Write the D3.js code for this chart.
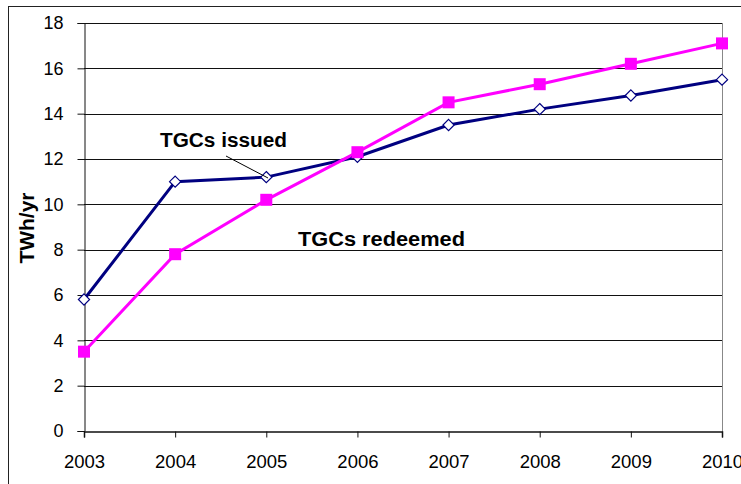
<!DOCTYPE html>
<html>
<head>
<meta charset="utf-8">
<script src="https://cdn.jsdelivr.net/npm/d3@7"></script>
<style>
  body { margin: 0; background: #fff; }
  svg { display: block; font-family: Arial, "Liberation Sans", sans-serif; }
</style>
</head>
<body>
<div id="chart"></div>
<script>
(function () {
    // data
    const years = [2003, 2004, 2005, 2006, 2007, 2008, 2009, 2010];
    const issued = [5.8, 11.0, 11.2, 12.1, 13.5, 14.2, 14.8, 15.5];
    const redeemed = [3.5, 7.8, 10.2, 12.3, 14.5, 15.3, 16.2, 17.1];
    const yTicks = [0, 2, 4, 6, 8, 10, 12, 14, 16, 18];

    const W = 741, H = 484;
    const margin = { top: 23, right: 19, bottom: 53, left: 84 };
    const width = W - margin.left - margin.right;
    const height = H - margin.top - margin.bottom;

    const svg = d3.select("#chart")
      .append("svg")
        .attr("width", W)
        .attr("height", H);

    // outer chart frame
    svg.append("rect")
      .attr("x", 8.5).attr("y", 6.5)
      .attr("width", W).attr("height", H)
      .attr("fill", "none")
      .attr("stroke", "#222")
      .attr("stroke-width", 1);

    const g = svg.append("g")
      .attr("transform", `translate(${margin.left},${margin.top})`);

    const x = d3.scalePoint()
      .domain(years)
      .range([0, width]);

    const y = d3.scaleLinear()
      .domain([0, 18])
      .range([height, 0]);

    // gridlines
    g.append("g")
      .selectAll("line")
      .data(yTicks.filter(d => d > 0))
      .enter()
      .append("line")
        .attr("x1", 0).attr("x2", width)
        .attr("y1", d => Math.round(y(d)) + 0.5)
        .attr("y2", d => Math.round(y(d)) + 0.5)
        .attr("stroke", "#111")
        .attr("stroke-width", 1);

    // right border of plot area
    g.append("line")
      .attr("x1", width + 0.5).attr("x2", width + 0.5)
      .attr("y1", 0).attr("y2", height)
      .attr("stroke", "#888")
      .attr("stroke-width", 1);

    // Y axis
    const yAxis = g.append("g")
      .attr("transform", "translate(0.5,0)")
      .call(d3.axisLeft(y).tickValues(yTicks).tickSize(7).tickPadding(14));
    yAxis.select(".domain").attr("stroke", "#111");
    yAxis.selectAll(".tick line").attr("stroke", "#111");
    yAxis.selectAll("text")
      .style("font-size", "18px")
      .style("font-family", "Arial, 'Liberation Sans', sans-serif")
      .attr("fill", "#000");

    // X axis
    const xAxis = g.append("g")
      .attr("transform", `translate(0,${height + 0.5})`)
      .call(d3.axisBottom(x).tickSize(6).tickPadding(17).tickFormat(d3.format("d")));
    xAxis.select(".domain").attr("stroke", "#111").attr("stroke-width", 1.5);
    xAxis.selectAll(".tick line").attr("stroke", "#111");
    xAxis.selectAll("text")
      .style("font-size", "18.5px")
      .style("font-family", "Arial, 'Liberation Sans', sans-serif")
      .attr("fill", "#000");

    const line = d3.line()
      .x((d, i) => x(years[i]))
      .y(d => y(d));

    // TGCs issued (navy)
    g.append("path")
      .datum(issued)
      .attr("fill", "none")
      .attr("stroke", "#000080")
      .attr("stroke-width", 3)
      .attr("d", line);

    // TGCs redeemed (magenta)
    g.append("path")
      .datum(redeemed)
      .attr("fill", "none")
      .attr("stroke", "#FF00FF")
      .attr("stroke-width", 3)
      .attr("d", line);

    // diamond markers
    g.append("g")
      .selectAll("path")
      .data(issued)
      .enter()
      .append("path")
        .attr("d", d3.symbol().type(d3.symbolDiamond2).size(80))
        .attr("transform", (d, i) => `translate(${x(years[i])},${y(d)})`)
        .attr("fill", "#fff")
        .attr("stroke", "#000080")
        .attr("stroke-width", 1.2);

    // square markers
    g.append("g")
      .selectAll("rect")
      .data(redeemed)
      .enter()
      .append("rect")
        .attr("x", (d, i) => x(years[i]) - 6)
        .attr("y", d => y(d) - 6)
        .attr("width", 12)
        .attr("height", 12)
        .attr("fill", "#FF00FF");

    // annotations
    svg.append("text")
      .attr("x", 160).attr("y", 147)
      .attr("textLength", 127)
      .attr("lengthAdjust", "spacingAndGlyphs")
      .style("font-size", "20px")
      .style("font-weight", "bold")
      .text("TGCs issued");

    svg.append("line")
      .attr("x1", 226).attr("y1", 156)
      .attr("x2", 268).attr("y2", 178)
      .attr("stroke", "#000")
      .attr("stroke-width", 1);

    svg.append("text")
      .attr("x", 298).attr("y", 246)
      .attr("textLength", 167)
      .attr("lengthAdjust", "spacingAndGlyphs")
      .style("font-size", "20px")
      .style("font-weight", "bold")
      .text("TGCs redeemed");

    // Y axis label
    svg.append("text")
      .attr("transform", `translate(34,228) rotate(-90)`)
      .attr("textLength", 71)
      .attr("lengthAdjust", "spacingAndGlyphs")
      .style("text-anchor", "middle")
      .style("font-size", "20px")
      .style("font-weight", "bold")
      .text("TWh/yr");
})();
</script>
</body>
</html>
